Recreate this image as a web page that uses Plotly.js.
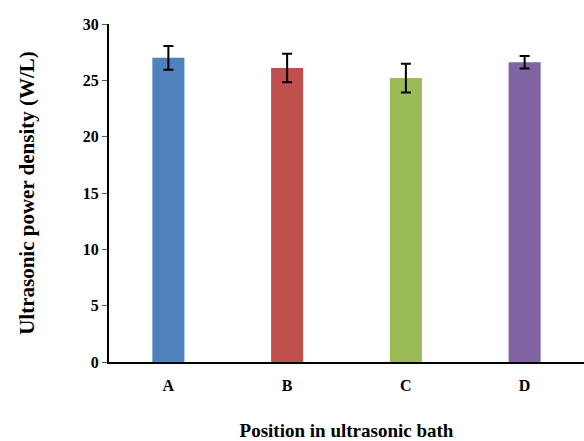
<!DOCTYPE html>
<html><head><meta charset="utf-8">
<script src="https://cdn.plot.ly/plotly-3.0.1.min.js"></script>
<style>html,body{margin:0;padding:0;background:#fff}</style>
</head><body>
<div id="chart" style="width:584px;height:441px"></div>
<script>
const categories = ["A", "B", "C", "D"];
const powerDensity = [27.0, 26.1, 25.2, 26.6];
const errors = [1.05, 1.27, 1.27, 0.55];
const barColors = ["#4F81BD", "#C0504D", "#9BBB59", "#8064A2"];
const yTicks = [0, 5, 10, 15, 20, 25, 30];

const font = {family: "Liberation Serif, Times New Roman, serif", color: "#000"};

Plotly.newPlot("chart", [{
  type: "bar",
  x: categories,
  y: powerDensity,
  width: 0.27,
  marker: {color: barColors},
  error_y: {type: "data", array: errors, visible: true, color: "#000", thickness: 2, width: 5},
  hoverinfo: "none"
}], {
  width: 584, height: 441,
  margin: {l: 109, r: 0, t: 24, b: 79, pad: 0},
  paper_bgcolor: "#fff", plot_bgcolor: "#fff",
  showlegend: false,
  font: font,
  xaxis: {
    type: "category",
    range: [-0.5, 3.5],
    showline: true, linecolor: "#000", linewidth: 2,
    ticks: "", showgrid: false, zeroline: false,
    tickfont: {family: font.family, size: 16, color: "#000", weight: "bold"},
    ticklabelstandoff: 8,
    title: {text: "Position in ultrasonic bath", font: {family: font.family, size: 19, color: "#000", weight: "bold"}, standoff: 33}
  },
  yaxis: {
    range: [0, 30],
    tickvals: yTicks,
    ticktext: yTicks.map(String),
    showline: true, linecolor: "#000", linewidth: 2,
    ticks: "outside", ticklen: 5, tickwidth: 1, tickcolor: "#555",
    showgrid: false, zeroline: false,
    tickfont: {family: font.family, size: 16, color: "#000", weight: "bold"},
    title: {text: "Ultrasonic power density (W/L)", font: {family: font.family, size: 21, color: "#000", weight: "bold"}, standoff: 42}
  }
}, {displayModeBar: false, staticPlot: true});
</script>
</body></html>
